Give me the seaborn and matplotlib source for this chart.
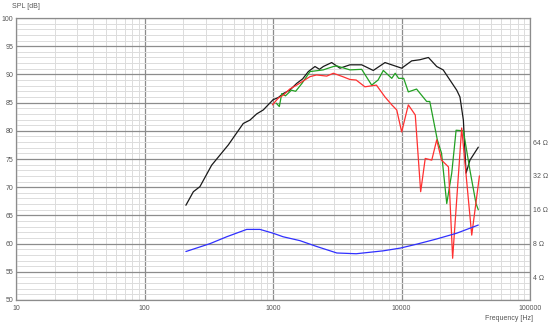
import numpy as np
import pandas as pd
import matplotlib
matplotlib.use("Agg")
import matplotlib.pyplot as plt
import seaborn as sns
from matplotlib.ticker import FixedLocator, NullFormatter, FixedFormatter

# ---- data ----
black_f = [210, 240, 270, 333, 449, 587, 662, 747, 840, 1000, 1100, 1200, 1350, 1528, 1700, 1883, 2122,
           2300, 2463, 2862, 3320, 3970, 4900, 6030, 7440, 9180, 10030, 12000, 13900, 16200, 18800,
           21100, 26900, 28500, 30300, 31800, 34100, 39600]
black_db = [66.8, 69.2, 70.1, 73.9, 77.5, 81.3, 81.9, 83.0, 83.7, 85.5, 85.9, 86.6, 87.2, 88.4, 89.2, 90.5, 91.4,
            90.9, 91.4, 92.1, 91.1, 91.7, 91.7, 90.7, 92.1, 91.4, 91.1, 92.4, 92.6, 93.0, 91.4,
            90.8, 87.2, 86.0, 81.9, 72.5, 74.8, 77.1]

green_f = [1060, 1120, 1170, 1250, 1390, 1500, 1680, 1940, 2460, 2950, 3140, 3970, 4900, 5860, 6570, 7220,
           8400, 8930, 9500, 10400, 11300, 13100, 15700, 16600, 19000, 20500, 22500, 24600,
           26600, 30300, 34100, 38000, 39600]
green_db = [84.9, 84.3, 86.6, 86.2, 87.2, 87.0, 88.4, 90.5, 90.8, 91.4, 91.5, 90.8, 90.9, 88.1, 89.0, 90.7,
            89.3, 90.2, 89.3, 89.3, 86.9, 87.4, 85.2, 85.2, 78.4, 76.0, 67.1, 72.5,
            80.1, 80.0, 73.0, 67.1, 66.0]

red_f = [990, 1100, 1200, 1350, 1528, 1940, 2180, 2620, 2950, 3490, 3970, 4440, 5190, 6380, 7440, 8400, 9180,
         10030, 11300, 12800, 14100, 15300, 17200, 18800, 20500, 23200, 25000, 29400, 35200, 40400]
red_db = [84.6, 85.8, 86.3, 87.4, 88.1, 89.6, 89.9, 89.7, 90.2, 89.6, 89.1, 89.0, 87.8, 88.1, 86.0, 84.6, 83.7,
          79.8, 84.6, 82.8, 69.2, 75.1, 74.8, 78.4, 74.8, 73.6, 57.4, 80.5, 61.5, 72.0]

imp_f = [210, 324, 436, 624, 792, 1000, 1200, 1620, 2180, 3140, 4440, 7220, 9800, 13100, 18800,
         26900, 39600]
imp_ohm = [6.8, 8.0, 9.2, 10.7, 10.7, 9.9, 9.2, 8.5, 7.55, 6.6, 6.5, 6.9, 7.3, 7.9, 8.8,
           9.9, 11.7]

x_ticks = [10, 100, 1000, 10000, 100000]
x_labels = ["10", "100", "1000", "10000", "100000"]
y_ticks = [50, 55, 60, 65, 70, 75, 80, 85, 90, 95, 100]
z_ticks = [4, 8, 16, 32, 64]
z_labels = ["4 \u03a9", "8 \u03a9", "16 \u03a9", "32 \u03a9", "64 \u03a9"]

# ---- figure ----
sns.set_style("white")
plt.rcParams["font.family"] = ["Liberation Sans", "DejaVu Sans"]
fig = plt.figure(figsize=(5.5, 3.25), dpi=100)
ax = fig.add_axes([16/550, 1-300/325, (530-16)/550, (300-18)/325])

txt_col = "#555555"
fs = 5.0

df_b = pd.DataFrame({"f": black_f, "db": black_db})
df_g = pd.DataFrame({"f": green_f, "db": green_db})
df_r = pd.DataFrame({"f": red_f, "db": red_db})
sns.lineplot(data=df_b, x="f", y="db", ax=ax, color="#1a1a1a", lw=0.9, zorder=3)
sns.lineplot(data=df_g, x="f", y="db", ax=ax, color="#22a022", lw=0.9, zorder=4)
sns.lineplot(data=df_r, x="f", y="db", ax=ax, color="#ff3030", lw=0.9, zorder=5)
ax.set_xlabel("")
ax.set_ylabel("")

# impedance axis
ax2 = ax.twinx()
df_i = pd.DataFrame({"f": imp_f, "z": imp_ohm})
sns.lineplot(data=df_i, x="f", y="z", ax=ax2, color="#3030ff", lw=0.9)
ax2.set_yscale("log", base=2)
ax2.set_ylim(8 * 2 ** (-10 / 6), 8 * 2 ** (40 / 6))
ax2.set_ylabel("")
ax2.set_xlabel("")

ax.set_xscale("log")
ax.set_xlim(10, 100000)
ax.set_ylim(50, 100)

# grid / ticks (set after scales)
ax.xaxis.set_major_locator(FixedLocator(x_ticks))
ax.xaxis.set_minor_locator(FixedLocator([m * 10**e for e in range(1, 5) for m in range(2, 10)]))
ax.xaxis.set_minor_formatter(NullFormatter())
ax.xaxis.set_major_formatter(FixedFormatter(x_labels))
ax.yaxis.set_major_locator(FixedLocator(y_ticks))
ax.yaxis.set_minor_locator(FixedLocator([v for v in range(50, 101) if v % 5]))
ax.grid(which="major", color="#8c8c8c", lw=0.9)
ax.grid(which="minor", color="#dcdcdc", lw=0.7)
ax.set_axisbelow(True)
ax.tick_params(which="both", length=0, labelsize=fs, labelcolor=txt_col)
ax.tick_params(axis="x", pad=3.5)
ax.tick_params(axis="y", pad=2)
for s in ax.spines.values():
    s.set_color("#8c8c8c")
    s.set_linewidth(0.9)

ax2.yaxis.set_major_locator(FixedLocator(z_ticks))
ax2.yaxis.set_major_formatter(FixedFormatter(z_labels))
ax2.yaxis.set_minor_locator(FixedLocator([]))
ax2.yaxis.set_minor_formatter(NullFormatter())
ax2.tick_params(which="both", length=0, labelsize=fs, labelcolor=txt_col, pad=2.5)
ax2.grid(False)
for s in ax2.spines.values():
    s.set_visible(False)

fig.text(12/550, 1-7/325, "SPL [dB]", fontsize=fs, color=txt_col, ha="left", va="center")
fig.text(533/550, 1-319/325, "Frequency [Hz]", fontsize=fs, color=txt_col, ha="right", va="center")

fig.savefig("out.png", dpi=100, facecolor="white")
